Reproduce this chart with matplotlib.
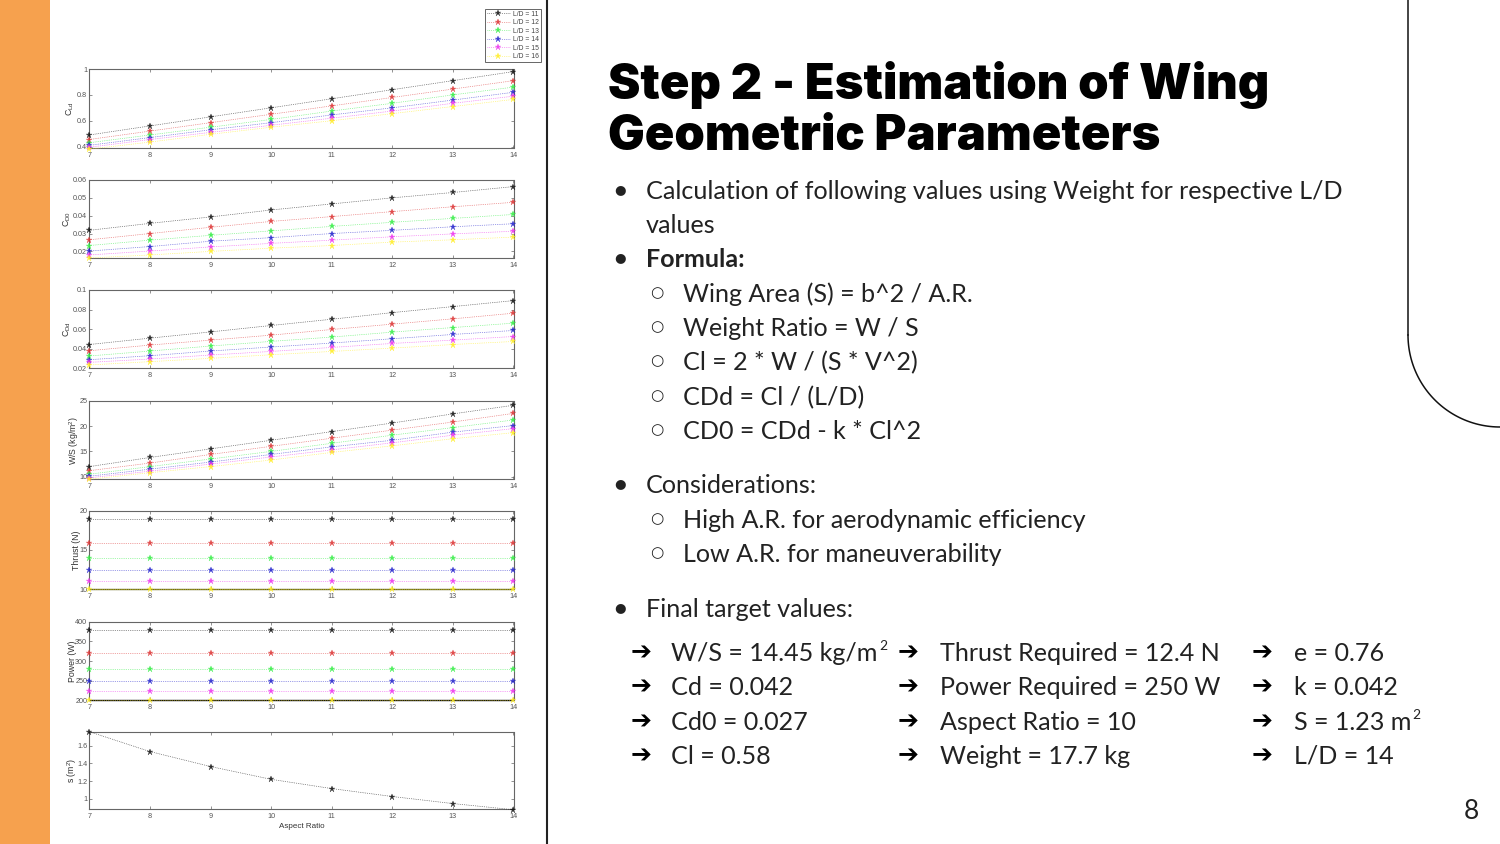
import numpy as np
import matplotlib
matplotlib.use('Agg')
import matplotlib.pyplot as plt
from matplotlib.patches import Rectangle

plt.rcParams['font.family'] = ['Liberation Sans', 'DejaVu Sans']
plt.rcParams['mathtext.default'] = 'regular'

aspect_ratio = [7, 8, 9, 10, 11, 12, 13, 14]
ld_labels = ['L/D = 11', 'L/D = 12', 'L/D = 13', 'L/D = 14', 'L/D = 15', 'L/D = 16']
ld_colors = ['#111111', '#dd3333', '#33ee44', '#2222cc', '#ee33ee', '#ffee22']

# values, one row per L/D
cl = [[.49, .56, .63, .70, .77, .84, .91, .98],
      [.455, .52, .585, .65, .715, .78, .845, .91],
      [.43, .49, .55, .61, .675, .735, .80, .86],
      [.41, .47, .53, .585, .645, .70, .76, .82],
      [.395, .455, .51, .565, .62, .675, .735, .79],
      [.38, .435, .495, .55, .60, .655, .71, .765]]
cd0 = [[.0318, .0357, .0393, .0432, .0466, .05, .053, .0563],
       [.0265, .030, .0335, .0368, .0395, .0423, .045, .0475],
       [.0233, .0263, .029, .0315, .034, .0363, .0385, .0407],
       [.0202, .0227, .0257, .0277, .030, .0318, .0338, .0355],
       [.018, .0202, .0225, .0245, .0263, .0282, .0298, .0313],
       [.0163, .018, .02, .0218, .0233, .0252, .0265, .028]]
cdd = [[.0441, .0506, .057, .0636, .070, .0768, .083, .0891],
       [.0377, .0435, .0486, .0537, .0595, .065, .0704, .0762],
       [.0323, .0374, .0425, .0473, .0517, .0568, .0615, .066],
       [.0285, .0326, .0374, .0415, .0456, .05, .0544, .0585],
       [.0258, .0292, .0333, .037, .0411, .0452, .0486, .0523],
       [.0231, .0265, .0299, .0336, .037, .0404, .0441, .0472]]
wing_loading = [[12.0, 13.8, 15.5, 17.2, 18.9, 20.6, 22.4, 24.1],
                [11.2, 12.7, 14.4, 16.0, 17.6, 19.2, 20.8, 22.5],
                [10.5, 12.0, 13.5, 15.0, 16.6, 18.2, 19.7, 21.2],
                [10.1, 11.5, 12.9, 14.4, 15.9, 17.2, 18.8, 20.1],
                [9.8, 11.1, 12.5, 13.9, 15.3, 16.7, 18.2, 19.5],
                [9.5, 10.8, 12.0, 13.3, 14.8, 16.1, 17.5, 18.7]]
thrust = [18.9, 15.9, 14.0, 12.4, 11.1, 10.0]
power = [378, 321, 279, 248, 223, 201]
area = [1.76, 1.535, 1.365, 1.22, 1.115, 1.025, .945, .875]

panels = [
    (69, 148.3, cl, (.387, 1), [.4, .6, .8, 1], ['0.4', '0.6', '0.8', '1'], '$C_{Ld}$', 67),
    (180, 258, cd0, (.0163, .06), [.02, .03, .04, .05, .06], ['0.02', '0.03', '0.04', '0.05', '0.06'], '$C_{D0}$', 64),
    (290, 368, cdd, (.02, .1), [.02, .04, .06, .08, .1], ['0.02', '0.04', '0.06', '0.08', '0.1'], '$C_{Dd}$', 64),
    (400.7, 479.3, wing_loading, (9.5, 25), [10, 15, 20, 25], ['10', '15', '20', '25'], 'W/S (kg/m$^2$)', 72),
    (510.7, 589.3, [[v] * 8 for v in thrust], (10, 20), [10, 15, 20], ['10', '15', '20'], 'Thrust (N)', 72),
    (621.7, 700.3, [[v] * 8 for v in power], (200, 400), [200, 250, 300, 350, 400], ['200', '250', '300', '350', '400'], 'Power (W)', 68),
    (731.7, 809.3, [area], (.88, 1.76), [1, 1.2, 1.4, 1.6], ['1', '1.2', '1.4', '1.6'], 's (m$^2$)', 70),
]

W, H = 1500, 844
fig = plt.figure(figsize=(15, 8.44), dpi=100)

# slide layer in pixel coordinates
bg = fig.add_axes([0, 0, 1, 1])
bg.set_xlim(0, W)
bg.set_ylim(H, 0)
bg.axis('off')
bg.add_patch(Rectangle((0, 0), 50, H, color='#F6A14E', lw=0))
bg.plot([547, 547], [0, H], color='#222222', lw=1.5)
t = np.linspace(np.pi / 2, np.pi, 60)
bg.plot([1408, 1408], [0, 335], color='#111111', lw=1.1)
bg.plot(1500 + 92 * np.cos(t), 335 + 92 * np.sin(t), color='#111111', lw=1.1)

AX_L, AX_R = 89.3, 513.5
grey = '#666666'
first_lines = None
for top, bottom, rows, ylim, yticks, ylabels, ylab, ylab_x in panels:
    ax = fig.add_axes([AX_L / W, 1 - bottom / H, (AX_R - AX_L) / W, (bottom - top) / H])
    colors = ld_colors if len(rows) > 1 else ld_colors[:1]
    for row, c in zip(rows, colors):
        ax.plot(aspect_ratio, row, ':', color=c, lw=0.5, alpha=0.85, marker='*', ms=5,
                mew=0.2, clip_on=False, zorder=3)
    ax.set_xlim(7, 14)
    ax.set_ylim(*ylim)
    ax.set_xticks(aspect_ratio)
    ax.set_yticks(yticks)
    ax.set_yticklabels(ylabels)
    ax.tick_params(direction='in', length=2.2, width=0.5, color=grey, labelcolor='#555555',
                   labelsize=5.2, top=True, right=True, pad=1.5)
    ax.tick_params(axis='x', pad=3)
    ax.set_ylabel(ylab, fontsize=6.3, color='#333333')
    # label anchor sits about 9 px left of where the text centre lands
    ax.yaxis.set_label_coords((ylab_x + 9 - AX_L) / (AX_R - AX_L), 0.5)
    for s in ax.spines.values():
        s.set_linewidth(0.8)
        s.set_color(grey)
    if first_lines is None:
        first_lines = ax.get_lines()
    if ylab == 'Power (W)':
        ax.spines['bottom'].set_color('#111111')
        ax.spines['bottom'].set_linewidth(1.0)
    if ylab == 'Thrust (N)':
        ax.spines['bottom'].set_color('#666622')
        ax.spines['bottom'].set_linewidth(1.0)
ax.set_xlabel('Aspect Ratio', fontsize=5.8, color='#333333', labelpad=1.5)

fig.legend(first_lines, ld_labels, loc='upper left', bbox_to_anchor=(484.5 / W, 1 - 8.5 / H),
           fontsize=4.9, frameon=True, fancybox=False, edgecolor=grey, framealpha=1,
           labelspacing=0.22, handlelength=3.4, handletextpad=0.5, borderpad=0.3,
           borderaxespad=0, labelcolor='#444444').get_frame().set_linewidth(0.7)

# slide text
TITLE_FONT = ['Inter', 'Lato', 'DejaVu Sans']
BODY_FONT = ['Lato', 'DejaVu Sans']
DARK = '#222222'
title_lines = ['Step 2 - Estimation of Wing', 'Geometric Parameters']
title_base = [99, 150]
for s, y in zip(title_lines, title_base):
    bg.text(608, y, s, fontsize=35.1, fontweight='black', family=TITLE_FONT, color='black', va='baseline')

body = [
    (199, 1, 'Calculation of following values using Weight for respective L/D', False),
    (233, 0, 'values', False),
    (267, 1, 'Formula:', True),
    (302, 2, 'Wing Area (S) = b^2 / A.R.', False),
    (336, 2, 'Weight Ratio = W / S', False),
    (370, 2, 'Cl = 2 * W / (S * V^2)', False),
    (405, 2, 'CDd = Cl / (L/D)', False),
    (439, 2, 'CD0 = CDd - k * Cl^2', False),
    (493, 1, 'Considerations:', False),
    (528, 2, 'High A.R. for aerodynamic efficiency', False),
    (562, 2, 'Low A.R. for maneuverability', False),
    (617, 1, 'Final target values:', False),
]
for y, level, s, bold in body:
    x = 683 if level == 2 else 646
    bg.text(x, y, s, fontsize=18.1, family=BODY_FONT, color=DARK, va='baseline',
            fontweight='bold' if bold else 'normal')
    if level == 1:
        bg.text(620, y - 9, '\u25cf', fontsize=9.5, family='DejaVu Sans', color=DARK, ha='center', va='center')
    if level == 2:
        bg.text(657, y - 9, '\u25cb', fontsize=11, family='DejaVu Sans', color=DARK, ha='center', va='center')

target_y = [661, 695, 730, 764]
target_cols = [
    (641, 671, ['W/S = 14.45 kg/m', 'Cd = 0.042', 'Cd0 = 0.027', 'Cl = 0.58']),
    (908, 940, ['Thrust Required = 12.4 N', 'Power Required = 250 W', 'Aspect Ratio = 10', 'Weight = 17.7 kg']),
    (1262, 1294, ['e = 0.76', 'k = 0.042', 'S = 1.23 m', 'L/D = 14']),
]
for xa, xt, rows in target_cols:
    for y, s in zip(target_y, rows):
        bg.text(xa, y - 9, '\u2794', fontsize=18, family='DejaVu Sans', color='black', ha='center', va='center')
        bg.text(xt, y, s, fontsize=18.1, family=BODY_FONT, color=DARK, va='baseline')
# the two small superscripts
bg.text(879, 650, '2', fontsize=10, family=BODY_FONT, color=DARK, va='baseline')
bg.text(1412, 719, '2', fontsize=10, family=BODY_FONT, color=DARK, va='baseline')

bg.text(1471, 819, '8', fontsize=19, family=BODY_FONT, color=DARK, ha='center', va='baseline')

fig.savefig('out.png', dpi=100)
